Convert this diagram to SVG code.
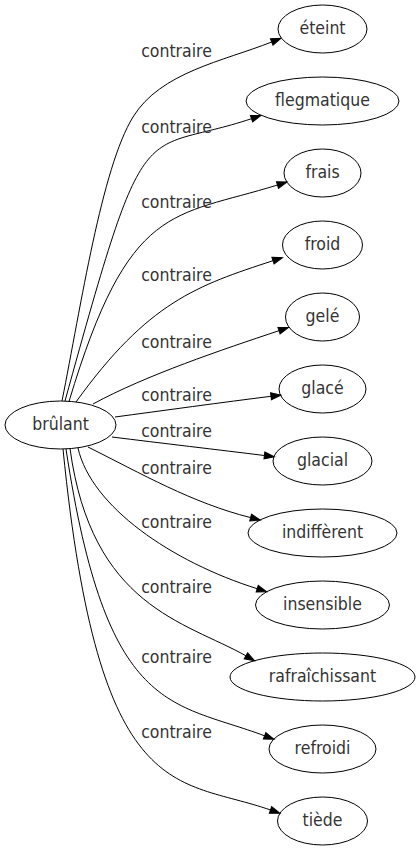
<svg xmlns="http://www.w3.org/2000/svg" width="420" height="851" viewBox="0 0 420 851">
<defs>
<style>
.node ellipse{fill:none;stroke:#000;stroke-width:1}
text{font-family:'DejaVu Sans Condensed','DejaVu Sans',sans-serif;font-stretch:condensed;font-size:17.5px;fill:#333;text-anchor:middle}
.edges path{fill:none;stroke:#000;stroke-width:1;marker-end:url(#arr)}
</style>
<marker id="arr" markerWidth="10" markerHeight="7" refX="0" refY="3.5" orient="auto" markerUnits="userSpaceOnUse" overflow="visible"><path d="M0,0 L10,3.5 L0,7 z" fill="#000" stroke="#000" stroke-width="1"/></marker>
</defs>
<rect width="420" height="851" fill="#fff"/>
<g id="connectors" class="edges">
<path d="M62,401 C81.1,305.3 101.6,168.1 133,117 C160.6,72.2 222.8,61.3 271.7,42"/>
<path d="M65,401 C147.8,101 137.5,156.6 251.5,118.7"/>
<path d="M69,401.5 C129,201.5 172.4,217.6 277.5,185"/>
<path d="M76,402 C148,302 197,285.5 273,260.7"/>
<path d="M93,404 C145.7,375.3 222,349.7 279,330.7"/>
<path d="M115,417 C160,411 225,402 271,396.3"/>
<path d="M112,437 C160,443 220,450 264.4,455.5"/>
<path d="M88,447 C141.6,473.8 192.4,503 250.6,517.6"/>
<path d="M78,448 C91.2,506.5 171.3,561.7 257.2,588.7"/>
<path d="M70,448.5 C91.6,606.9 185,621.5 245.9,655.8"/>
<path d="M66,449 C106.5,716.3 171,700.8 264.6,735.8"/>
<path d="M63,449 C99,809 176.5,777 270.5,810"/>
<text x="176.5" y="57">contraire</text>
<text x="176.5" y="133">contraire</text>
<text x="176.5" y="208">contraire</text>
<text x="176.5" y="281">contraire</text>
<text x="176.5" y="347.5">contraire</text>
<text x="176.5" y="401">contraire</text>
<text x="176.5" y="436.5">contraire</text>
<text x="176.5" y="473.5">contraire</text>
<text x="176.5" y="527.5">contraire</text>
<text x="176.5" y="592.5">contraire</text>
<text x="176.5" y="663">contraire</text>
<text x="176.5" y="738">contraire</text>
</g>
<g id="n-brulant" class="node"><ellipse cx="60.5" cy="425" rx="55.5" ry="24"/><text x="60.5" y="430.3">brûlant</text></g>
<g id="n-eteint" class="node"><ellipse cx="322.5" cy="29" rx="44.5" ry="24"/><text x="322.5" y="34.3">éteint</text></g>
<g id="n-flegmatique" class="node"><ellipse cx="322.5" cy="101" rx="76.5" ry="24"/><text x="322.5" y="106.3">flegmatique</text></g>
<g id="n-frais" class="node"><ellipse cx="322.5" cy="173" rx="38.5" ry="24"/><text x="322.5" y="178.3">frais</text></g>
<g id="n-froid" class="node"><ellipse cx="322.5" cy="245" rx="40" ry="24"/><text x="322.5" y="250.3">froid</text></g>
<g id="n-gele" class="node"><ellipse cx="322.5" cy="317" rx="37" ry="24"/><text x="322.5" y="322.3">gelé</text></g>
<g id="n-glace" class="node"><ellipse cx="322.5" cy="389" rx="43.5" ry="24"/><text x="322.5" y="394.3">glacé</text></g>
<g id="n-glacial" class="node"><ellipse cx="322.5" cy="461" rx="49.5" ry="24"/><text x="322.5" y="466.3">glacial</text></g>
<g id="n-indifferent" class="node"><ellipse cx="322.5" cy="533" rx="74.5" ry="24"/><text x="322.5" y="538.3">indiffèrent</text></g>
<g id="n-insensible" class="node"><ellipse cx="322.5" cy="605" rx="67" ry="24"/><text x="322.5" y="610.3">insensible</text></g>
<g id="n-rafraichissant" class="node"><ellipse cx="322.5" cy="677" rx="92.5" ry="24"/><text x="322.5" y="682.3">rafraîchissant</text></g>
<g id="n-refroidi" class="node"><ellipse cx="322.5" cy="749" rx="53.5" ry="24"/><text x="322.5" y="754.3">refroidi</text></g>
<g id="n-tiede" class="node"><ellipse cx="322.5" cy="821" rx="45" ry="24"/><text x="322.5" y="826.3">tiède</text></g>
</svg>
